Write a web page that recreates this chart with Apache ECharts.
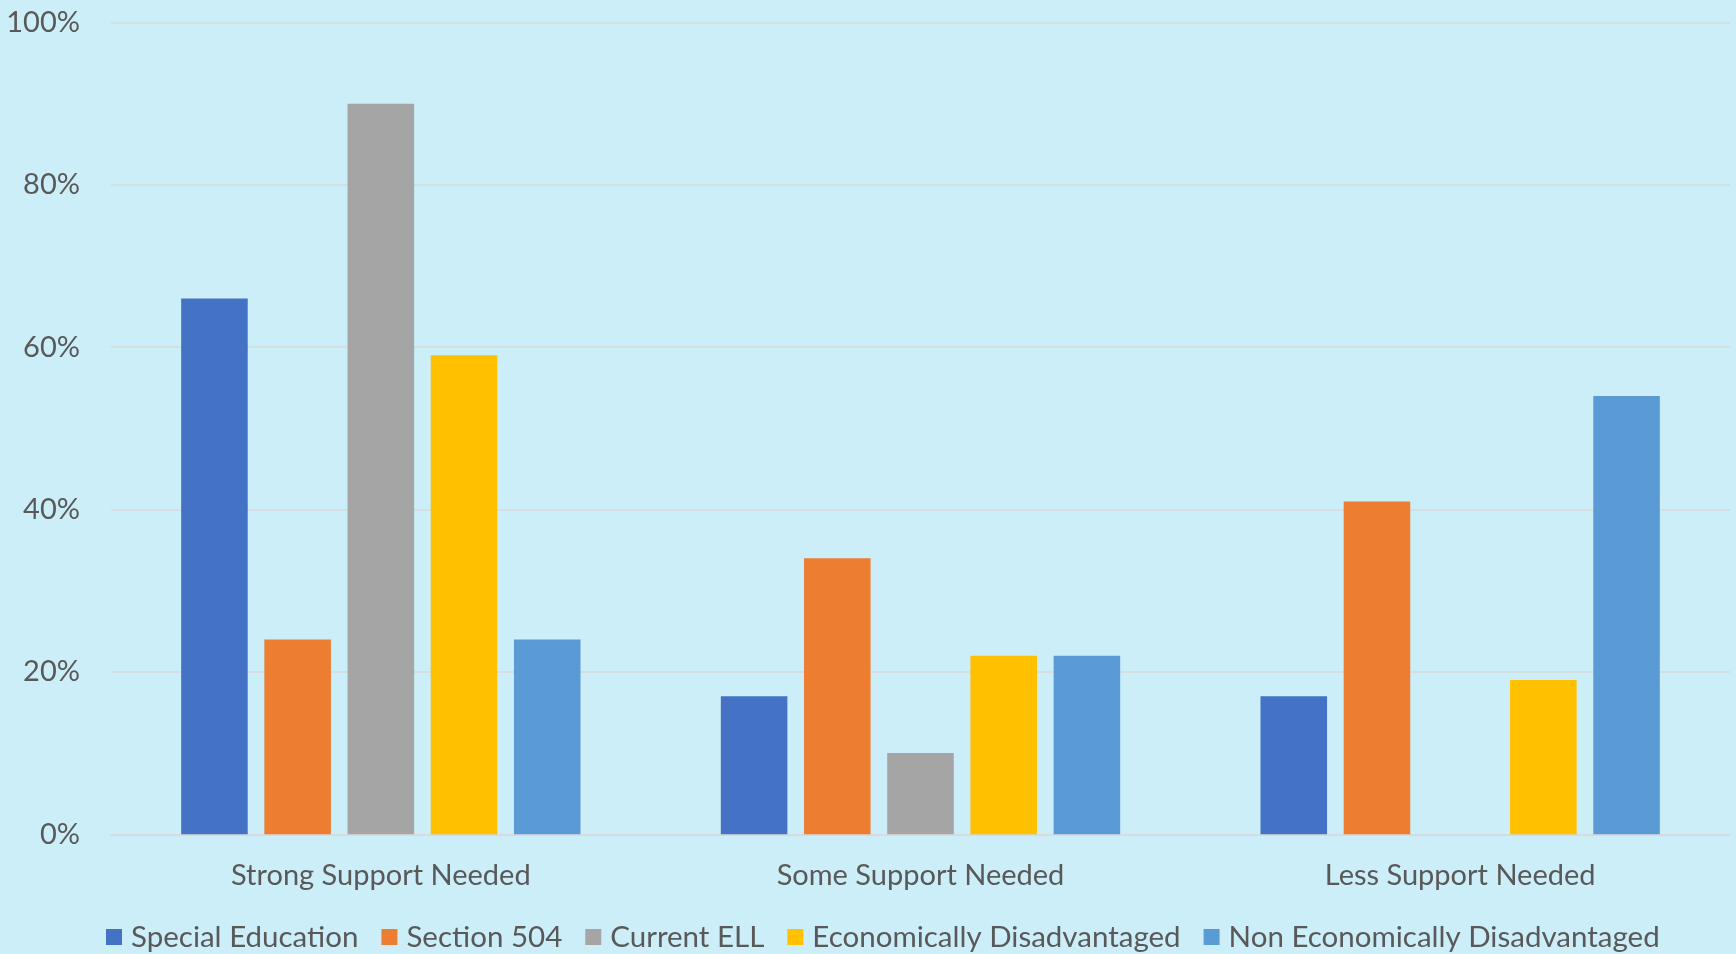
<!DOCTYPE html>
<html>
<head>
<meta charset="utf-8">
<style>
html,body{margin:0;padding:0;background:#CBEEF9;}
#chart{width:1736px;height:954px;}
</style>
<script src="https://cdn.jsdelivr.net/npm/echarts@6/dist/echarts.min.js"></script>
</head>
<body>
<div id="chart"></div>
<script>
const categories = ["Strong Support Needed", "Some Support Needed", "Less Support Needed"];
const seriesNames = ["Special Education", "Section 504", "Current ELL", "Economically Disadvantaged", "Non Economically Disadvantaged"];
const specialEducation = [66, 17, 17];
const section504 = [24, 34, 41];
const currentELL = [90, 10, 0];
const economicallyDisadvantaged = [59, 22, 19];
const nonEconomicallyDisadvantaged = [24, 22, 54];
const yTicks = [0, 20, 40, 60, 80, 100];

const values = [specialEducation, section504, currentELL, economicallyDisadvantaged, nonEconomicallyDisadvantaged];
const colors = ["#4472C4", "#ED7D31", "#A5A5A5", "#FFC000", "#5B9BD5"];
const FONT = "Lato";
const TXT = "#595959";

const chart = echarts.init(document.getElementById('chart'), null, {renderer: 'canvas'});
chart.setOption({
  backgroundColor: '#CBEEF9',
  animation: false,
  color: colors,
  textStyle: {fontFamily: FONT},
  grid: {left: 111, right: 6, top: 22.5, bottom: 119.7, containLabel: false},
  legend: {
    left: 106, top: 922, padding: 0,
    itemWidth: 16, itemHeight: 16, itemGap: 23,
    icon: 'rect',
    textStyle: {fontFamily: FONT, fontSize: 29.5, color: TXT, padding: [0, 0, 0, 4]},
    data: seriesNames
  },
  xAxis: {
    type: 'category',
    data: categories,
    axisTick: {show: false},
    axisLine: {show: true, lineStyle: {color: '#D9D9D9', width: 1.5}},
    axisLabel: {fontFamily: FONT, fontSize: 29, color: TXT, margin: 27}
  },
  yAxis: {
    type: 'value',
    min: yTicks[0], max: yTicks[yTicks.length - 1], interval: 20,
    axisLine: {show: false},
    axisTick: {show: false},
    splitLine: {lineStyle: {color: '#D9D9D9', width: 1.5}},
    axisLabel: {fontFamily: FONT, fontSize: 29, color: TXT, margin: 31, formatter: '{value}%'}
  },
  series: seriesNames.map((n, i) => ({
    name: n,
    type: 'bar',
    data: values[i],
    barGap: '25%',
    barCategoryGap: '26%',
    itemStyle: {color: colors[i]}
  }))
});
</script>
</body>
</html>
